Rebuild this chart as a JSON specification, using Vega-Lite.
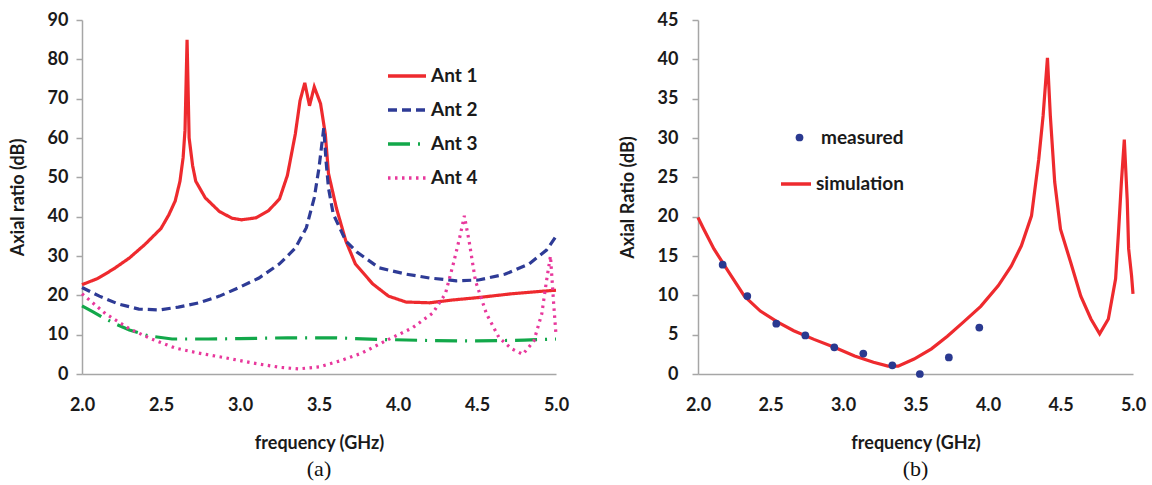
{
  "$schema": "https://vega.github.io/schema/vega-lite/v6.json",
  "background": "white",
  "padding": {"left": 9, "top": 11, "right": 10, "bottom": 5},
  "spacing": 50,
  "config": {
    "view": {"stroke": null},
    "font": "Lato",
    "axis": {
      "grid": false,
      "domainColor": "#a6a6a6",
      "domainWidth": 1.5,
      "tickColor": "#a6a6a6",
      "tickWidth": 1.5,
      "labelFont": "Lato",
      "labelFontSize": 18,
      "labelFontWeight": "bold",
      "labelColor": "#1a1a1a",
      "labelFlush": false,
      "labelOverlap": false,
      "titleFont": "Lato",
      "titleFontSize": 18,
      "titleFontWeight": "bold",
      "titleColor": "#1a1a1a"
    },
    "axisX": {"ticks": false, "labelPadding": 22, "titlePadding": 20},
    "axisY": {"tickSize": 6, "labelPadding": 8, "titlePadding": 20},
    "legend": {"padding": 0}
  },
  "datasets": {
    "ants": [
      {"f": 2.0, "v": 22.7, "s": "Ant 1"}, {"f": 2.1, "v": 24.3, "s": "Ant 1"}, {"f": 2.2, "v": 26.7, "s": "Ant 1"}, {"f": 2.3, "v": 29.5, "s": "Ant 1"}, {"f": 2.4, "v": 33, "s": "Ant 1"}, {"f": 2.5, "v": 37, "s": "Ant 1"}, {"f": 2.55, "v": 40.5, "s": "Ant 1"}, {"f": 2.59, "v": 44, "s": "Ant 1"}, {"f": 2.62, "v": 49, "s": "Ant 1"}, {"f": 2.64, "v": 55, "s": "Ant 1"}, {"f": 2.652, "v": 62, "s": "Ant 1"}, {"f": 2.665, "v": 85, "s": "Ant 1"}, {"f": 2.678, "v": 60, "s": "Ant 1"}, {"f": 2.7, "v": 53, "s": "Ant 1"}, {"f": 2.72, "v": 49, "s": "Ant 1"}, {"f": 2.78, "v": 44.8, "s": "Ant 1"}, {"f": 2.87, "v": 41.3, "s": "Ant 1"}, {"f": 2.95, "v": 39.6, "s": "Ant 1"}, {"f": 3.01, "v": 39.2, "s": "Ant 1"}, {"f": 3.1, "v": 39.7, "s": "Ant 1"}, {"f": 3.18, "v": 41.5, "s": "Ant 1"}, {"f": 3.25, "v": 44.5, "s": "Ant 1"}, {"f": 3.3, "v": 50.5, "s": "Ant 1"}, {"f": 3.35, "v": 61, "s": "Ant 1"}, {"f": 3.38, "v": 69.5, "s": "Ant 1"}, {"f": 3.41, "v": 74, "s": "Ant 1"}, {"f": 3.44, "v": 68.2, "s": "Ant 1"}, {"f": 3.47, "v": 73, "s": "Ant 1"}, {"f": 3.51, "v": 68.7, "s": "Ant 1"}, {"f": 3.54, "v": 61, "s": "Ant 1"}, {"f": 3.56, "v": 51, "s": "Ant 1"}, {"f": 3.61, "v": 42.2, "s": "Ant 1"}, {"f": 3.67, "v": 33.8, "s": "Ant 1"}, {"f": 3.73, "v": 28, "s": "Ant 1"}, {"f": 3.84, "v": 22.9, "s": "Ant 1"}, {"f": 3.94, "v": 19.8, "s": "Ant 1"}, {"f": 4.05, "v": 18.3, "s": "Ant 1"}, {"f": 4.2, "v": 18.1, "s": "Ant 1"}, {"f": 4.34, "v": 18.8, "s": "Ant 1"}, {"f": 4.5, "v": 19.4, "s": "Ant 1"}, {"f": 4.72, "v": 20.4, "s": "Ant 1"}, {"f": 4.9, "v": 21, "s": "Ant 1"}, {"f": 5.0, "v": 21.3, "s": "Ant 1"},
      {"f": 2.0, "v": 22, "s": "Ant 2"}, {"f": 2.11, "v": 19.8, "s": "Ant 2"}, {"f": 2.23, "v": 17.8, "s": "Ant 2"}, {"f": 2.36, "v": 16.5, "s": "Ant 2"}, {"f": 2.49, "v": 16.3, "s": "Ant 2"}, {"f": 2.61, "v": 17, "s": "Ant 2"}, {"f": 2.74, "v": 18.1, "s": "Ant 2"}, {"f": 2.87, "v": 19.8, "s": "Ant 2"}, {"f": 2.99, "v": 21.9, "s": "Ant 2"}, {"f": 3.12, "v": 24.4, "s": "Ant 2"}, {"f": 3.25, "v": 28, "s": "Ant 2"}, {"f": 3.35, "v": 32, "s": "Ant 2"}, {"f": 3.42, "v": 37.2, "s": "Ant 2"}, {"f": 3.47, "v": 44.8, "s": "Ant 2"}, {"f": 3.5, "v": 52.4, "s": "Ant 2"}, {"f": 3.53, "v": 62.5, "s": "Ant 2"}, {"f": 3.545, "v": 54, "s": "Ant 2"}, {"f": 3.56, "v": 47.3, "s": "Ant 2"}, {"f": 3.59, "v": 40.7, "s": "Ant 2"}, {"f": 3.67, "v": 33.8, "s": "Ant 2"}, {"f": 3.74, "v": 31, "s": "Ant 2"}, {"f": 3.88, "v": 27, "s": "Ant 2"}, {"f": 4.05, "v": 25.4, "s": "Ant 2"}, {"f": 4.2, "v": 24.4, "s": "Ant 2"}, {"f": 4.37, "v": 23.7, "s": "Ant 2"}, {"f": 4.51, "v": 23.9, "s": "Ant 2"}, {"f": 4.68, "v": 25.4, "s": "Ant 2"}, {"f": 4.83, "v": 28, "s": "Ant 2"}, {"f": 4.94, "v": 31.5, "s": "Ant 2"}, {"f": 5.0, "v": 35, "s": "Ant 2"},
      {"f": 2.0, "v": 17.3, "s": "Ant 3"}, {"f": 2.07, "v": 15.8, "s": "Ant 3"}, {"f": 2.14, "v": 14.2, "s": "Ant 3"}, {"f": 2.22, "v": 12.6, "s": "Ant 3"}, {"f": 2.3, "v": 11.2, "s": "Ant 3"}, {"f": 2.42, "v": 9.7, "s": "Ant 3"}, {"f": 2.57, "v": 8.9, "s": "Ant 3"}, {"f": 2.8, "v": 8.9, "s": "Ant 3"}, {"f": 3.0, "v": 9.0, "s": "Ant 3"}, {"f": 3.3, "v": 9.2, "s": "Ant 3"}, {"f": 3.6, "v": 9.2, "s": "Ant 3"}, {"f": 3.88, "v": 8.8, "s": "Ant 3"}, {"f": 4.2, "v": 8.5, "s": "Ant 3"}, {"f": 4.5, "v": 8.4, "s": "Ant 3"}, {"f": 4.8, "v": 8.6, "s": "Ant 3"}, {"f": 5.0, "v": 8.9, "s": "Ant 3"},
      {"f": 2.0, "v": 20.4, "s": "Ant 4"}, {"f": 2.15, "v": 15.3, "s": "Ant 4"}, {"f": 2.3, "v": 11.5, "s": "Ant 4"}, {"f": 2.44, "v": 8.9, "s": "Ant 4"}, {"f": 2.59, "v": 6.6, "s": "Ant 4"}, {"f": 2.74, "v": 5.3, "s": "Ant 4"}, {"f": 2.91, "v": 4.1, "s": "Ant 4"}, {"f": 3.08, "v": 2.8, "s": "Ant 4"}, {"f": 3.25, "v": 1.7, "s": "Ant 4"}, {"f": 3.37, "v": 1.3, "s": "Ant 4"}, {"f": 3.5, "v": 1.8, "s": "Ant 4"}, {"f": 3.63, "v": 3.3, "s": "Ant 4"}, {"f": 3.77, "v": 5.3, "s": "Ant 4"}, {"f": 3.92, "v": 8.4, "s": "Ant 4"}, {"f": 4.09, "v": 11.7, "s": "Ant 4"}, {"f": 4.22, "v": 15.5, "s": "Ant 4"}, {"f": 4.3, "v": 20.4, "s": "Ant 4"}, {"f": 4.35, "v": 28, "s": "Ant 4"}, {"f": 4.39, "v": 34.6, "s": "Ant 4"}, {"f": 4.42, "v": 40.2, "s": "Ant 4"}, {"f": 4.45, "v": 33.8, "s": "Ant 4"}, {"f": 4.49, "v": 23.7, "s": "Ant 4"}, {"f": 4.56, "v": 15.3, "s": "Ant 4"}, {"f": 4.64, "v": 9.2, "s": "Ant 4"}, {"f": 4.72, "v": 6.4, "s": "Ant 4"}, {"f": 4.79, "v": 5.0, "s": "Ant 4"}, {"f": 4.86, "v": 8.4, "s": "Ant 4"}, {"f": 4.91, "v": 15.3, "s": "Ant 4"}, {"f": 4.94, "v": 23.7, "s": "Ant 4"}, {"f": 4.965, "v": 30, "s": "Ant 4"}, {"f": 4.985, "v": 18, "s": "Ant 4"}, {"f": 5.0, "v": 10, "s": "Ant 4"}
    ],
    "sim": [
      {"f": 2.0, "v": 19.9, "s": "simulation"}, {"f": 2.04, "v": 18.4, "s": "simulation"}, {"f": 2.11, "v": 15.9, "s": "simulation"}, {"f": 2.21, "v": 13, "s": "simulation"}, {"f": 2.32, "v": 9.9, "s": "simulation"}, {"f": 2.43, "v": 8, "s": "simulation"}, {"f": 2.55, "v": 6.6, "s": "simulation"}, {"f": 2.66, "v": 5.5, "s": "simulation"}, {"f": 2.8, "v": 4.4, "s": "simulation"}, {"f": 2.94, "v": 3.4, "s": "simulation"}, {"f": 3.08, "v": 2.3, "s": "simulation"}, {"f": 3.21, "v": 1.5, "s": "simulation"}, {"f": 3.31, "v": 1.0, "s": "simulation"}, {"f": 3.38, "v": 1.0, "s": "simulation"}, {"f": 3.49, "v": 1.9, "s": "simulation"}, {"f": 3.61, "v": 3.2, "s": "simulation"}, {"f": 3.72, "v": 4.8, "s": "simulation"}, {"f": 3.83, "v": 6.6, "s": "simulation"}, {"f": 3.95, "v": 8.6, "s": "simulation"}, {"f": 4.07, "v": 11.2, "s": "simulation"}, {"f": 4.16, "v": 13.7, "s": "simulation"}, {"f": 4.23, "v": 16.3, "s": "simulation"}, {"f": 4.3, "v": 20.1, "s": "simulation"}, {"f": 4.35, "v": 27.3, "s": "simulation"}, {"f": 4.38, "v": 32.8, "s": "simulation"}, {"f": 4.41, "v": 40.2, "s": "simulation"}, {"f": 4.43, "v": 32.8, "s": "simulation"}, {"f": 4.46, "v": 24.4, "s": "simulation"}, {"f": 4.5, "v": 18.4, "s": "simulation"}, {"f": 4.57, "v": 14.2, "s": "simulation"}, {"f": 4.64, "v": 9.9, "s": "simulation"}, {"f": 4.71, "v": 7, "s": "simulation"}, {"f": 4.77, "v": 5.1, "s": "simulation"}, {"f": 4.83, "v": 7, "s": "simulation"}, {"f": 4.88, "v": 12.1, "s": "simulation"}, {"f": 4.9, "v": 18, "s": "simulation"}, {"f": 4.92, "v": 24.4, "s": "simulation"}, {"f": 4.94, "v": 29.8, "s": "simulation"}, {"f": 4.96, "v": 22.2, "s": "simulation"}, {"f": 4.97, "v": 15.9, "s": "simulation"}, {"f": 4.99, "v": 12.5, "s": "simulation"}, {"f": 5.0, "v": 10.2, "s": "simulation"}
    ],
    "meas": [
      {"f": 2.17, "v": 13.9, "s": "measured"}, {"f": 2.34, "v": 9.9, "s": "measured"}, {"f": 2.54, "v": 6.4, "s": "measured"}, {"f": 2.74, "v": 4.9, "s": "measured"}, {"f": 2.94, "v": 3.4, "s": "measured"}, {"f": 3.14, "v": 2.6, "s": "measured"}, {"f": 3.34, "v": 1.1, "s": "measured"}, {"f": 3.53, "v": 0, "s": "measured"}, {"f": 3.73, "v": 2.1, "s": "measured"}, {"f": 3.94, "v": 5.9, "s": "measured"}
    ]
  },
  "hconcat": [
    {
      "width": 474,
      "height": 354,
      "data": {"name": "ants"},
      "title": {"text": "(a)", "orient": "bottom", "frame": "group", "anchor": "middle", "font": "Liberation Serif", "fontSize": 22, "fontWeight": "normal", "color": "#111111", "offset": 7},
      "mark": {"type": "line", "strokeWidth": 3.2},
      "encoding": {
        "x": {"field": "f", "type": "quantitative", "scale": {"domain": [2, 5], "nice": false, "zero": false}, "axis": {"title": "frequency (GHz)", "values": [2, 2.5, 3, 3.5, 4, 4.5, 5], "format": ".1f"}},
        "y": {"field": "v", "type": "quantitative", "scale": {"domain": [0, 90], "nice": false}, "axis": {"title": "Axial ratio (dB)", "values": [0, 10, 20, 30, 40, 50, 60, 70, 80, 90]}},
        "stroke": {"field": "s", "type": "nominal", "scale": {"domain": ["Ant 1", "Ant 2", "Ant 3", "Ant 4"], "range": ["#ee2a2e", "#2e3b96", "#12a84a", "#e8389c"]},
          "legend": {"title": null, "orient": "none", "legendX": 304, "legendY": 35, "symbolType": "stroke", "symbolSize": 1444, "symbolStrokeWidth": 3.5, "labelFont": "Lato", "labelFontSize": 19, "labelFontWeight": "bold", "labelColor": "#1a1a1a", "labelOffset": 3, "rowPadding": 3}},
        "strokeDash": {"field": "s", "type": "nominal", "scale": {"domain": ["Ant 1", "Ant 2", "Ant 3", "Ant 4"], "range": [[1, 0], [9, 5], [22, 8, 2, 8], [2.5, 4.5]]},
          "legend": {"title": null, "orient": "none", "legendX": 304, "legendY": 35, "symbolType": "stroke", "symbolSize": 1444, "symbolStrokeWidth": 3.5, "labelFont": "Lato", "labelFontSize": 19, "labelFontWeight": "bold", "labelColor": "#1a1a1a", "labelOffset": 3, "rowPadding": 3}}
      }
    },
    {
      "width": 435,
      "height": 354,
      "title": {"text": "(b)", "orient": "bottom", "frame": "group", "anchor": "middle", "font": "Liberation Serif", "fontSize": 22, "fontWeight": "normal", "color": "#111111", "offset": 7},
      "encoding": {
        "x": {"field": "f", "type": "quantitative", "scale": {"domain": [2, 5], "nice": false, "zero": false}, "axis": {"title": "frequency (GHz)", "values": [2, 2.5, 3, 3.5, 4, 4.5, 5], "format": ".1f"}},
        "y": {"field": "v", "type": "quantitative", "scale": {"domain": [0, 45], "nice": false}, "axis": {"title": "Axial Ratio (dB)", "values": [0, 5, 10, 15, 20, 25, 30, 35, 40, 45], "labelPadding": 14, "titlePadding": 20}}
      },
      "layer": [
        {
          "data": {"name": "sim"},
          "mark": {"type": "line", "strokeWidth": 3.2},
          "encoding": {
            "stroke": {"field": "s", "type": "nominal", "scale": {"domain": ["simulation"], "range": ["#ee2a2e"]},
              "legend": {"title": null, "orient": "none", "legendX": 81, "legendY": 147, "symbolType": "stroke", "symbolSize": 900, "symbolStrokeWidth": 3.5, "labelFont": "Lato", "labelFontSize": 19, "labelFontWeight": "bold", "labelColor": "#1a1a1a", "labelOffset": 3}}
          }
        },
        {
          "data": {"name": "meas"},
          "mark": {"type": "point", "filled": true, "size": 60, "opacity": 1},
          "encoding": {
            "fill": {"field": "s", "type": "nominal", "scale": {"domain": ["measured"], "range": ["#2a3990"]},
              "legend": {"title": null, "orient": "none", "legendX": 92, "legendY": 108, "symbolType": "circle", "symbolSize": 60, "symbolOpacity": 1, "labelFont": "Lato", "labelFontSize": 19, "labelFontWeight": "bold", "labelColor": "#1a1a1a", "labelOffset": 12}}
          }
        }
      ]
    }
  ],
  "resolve": {
    "scale": {"stroke": "independent", "strokeDash": "independent", "fill": "independent"},
    "legend": {"stroke": "independent", "strokeDash": "independent", "fill": "independent"}
  }
}
